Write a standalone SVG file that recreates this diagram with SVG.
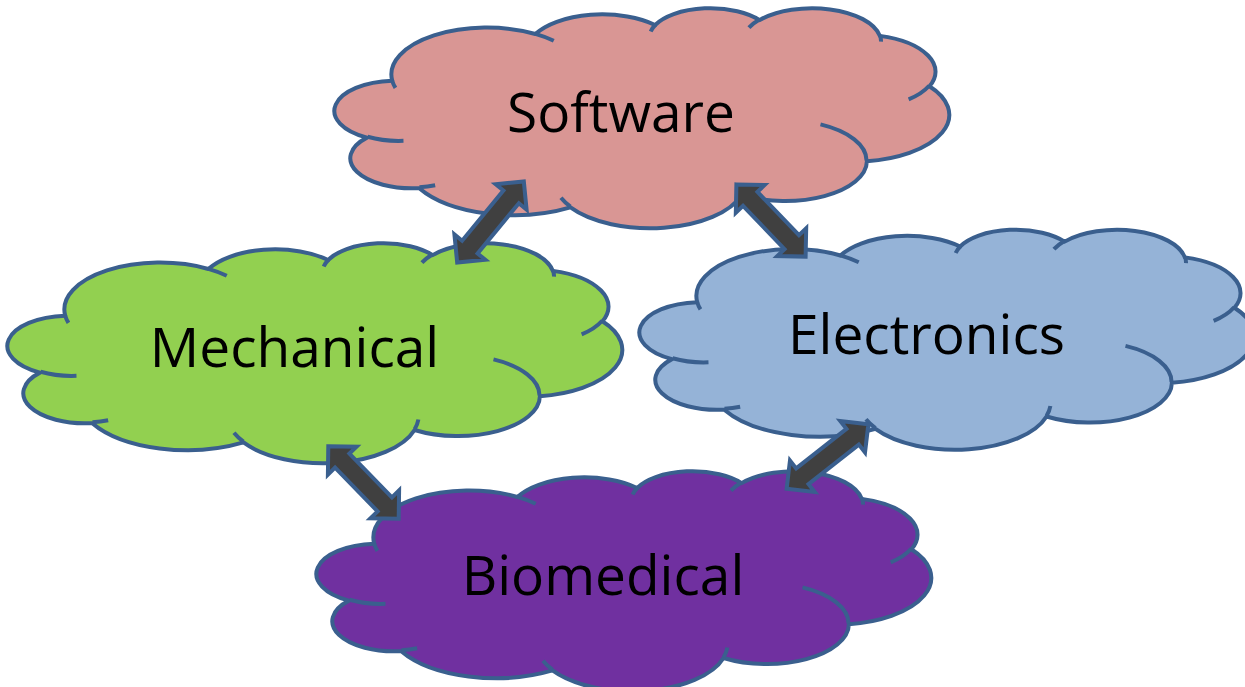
<svg xmlns="http://www.w3.org/2000/svg" xmlns:xlink="http://www.w3.org/1999/xlink" width="1245" height="687" viewBox="0 0 1245 687">
  <style>
    .outline { stroke: #3A5F8E; stroke-width: 4; stroke-linejoin: round; vector-effect: non-scaling-stroke; }
    .hint { fill: none; stroke: #3A5F8E; stroke-width: 4; vector-effect: non-scaling-stroke; }
    .label { font-family: "Open Sans", "Liberation Sans", sans-serif; font-size: 55px; fill: #000000; text-anchor: middle; }
    .arrow { fill: #404040; stroke: #3A5F8E; stroke-width: 4; stroke-linejoin: miter; stroke-miterlimit: 10; }
  </style>
  <defs>
    <path id="cloud-shape" class="outline" vector-effect="non-scaling-stroke" d="M3900,14370 A6753,9190 0 0 1 14005,5202 A5333,7267 0 0 1 22456,3431 A4365,5945 0 0 1 29833,2479 A4857,6595 0 0 1 38318,5575 A5333,7273 0 0 1 41818,15458 A6775,9220 0 0 1 37404,30202 A5785,7867 0 0 1 28556,36812 A6752,9215 0 0 1 16481,39264 A7720,10543 0 0 1 5806,35472 A4360,5918 0 0 1 2114,25551 A4345,5945 0 0 1 3900,14370 Z"/>
    <path id="cloud-hints" class="hint" vector-effect="non-scaling-stroke" d="M4693,26177 A4345,5945 0 0 1 2160,25380 M6928,34899 A4360,5918 0 0 1 5820,35281 M16478,39090 A6752,9215 0 0 1 15810,37349 M28827,34751 A6752,9215 0 0 1 28560,36660 M34129,22954 A5785,7867 0 0 1 37380,30090 M41798,15354 A5333,7273 0 0 1 40350,18030 M38324,5426 A4857,6595 0 0 1 38401,6690 M29078,3952 A4857,6595 0 0 1 29820,2339 M22141,4720 A4365,5945 0 0 1 22500,3331 M14000,5192 A6753,9190 0 0 1 15299,6539 M4127,15789 A6753,9190 0 0 1 3900,14370"/>
  </defs>

  <g id="software">
    <g transform="translate(337,7.5) scale(0.0141667,0.0050926)">
      <use xlink:href="#cloud-shape" href="#cloud-shape" fill="#D99694"/>
      <use xlink:href="#cloud-hints" href="#cloud-hints"/>
    </g>
    <text class="label" x="621" y="132">Software</text>
  </g>

  <g id="mechanical">
    <g transform="translate(10,242.5) scale(0.0141667,0.0050926)">
      <use xlink:href="#cloud-shape" href="#cloud-shape" fill="#92D050"/>
      <use xlink:href="#cloud-hints" href="#cloud-hints"/>
    </g>
    <text class="label" x="294.5" y="367">Mechanical</text>
  </g>

  <g id="electronics">
    <g transform="translate(642,229) scale(0.0141667,0.0050926)">
      <use xlink:href="#cloud-shape" href="#cloud-shape" fill="#95B3D7"/>
      <use xlink:href="#cloud-hints" href="#cloud-hints"/>
    </g>
    <text class="label" x="926.5" y="353.5">Electronics</text>
  </g>

  <g id="biomedical">
    <g transform="translate(319,470.5) scale(0.0141667,0.0050926)">
      <use xlink:href="#cloud-shape" href="#cloud-shape" fill="#7030A0"/>
      <use xlink:href="#cloud-hints" href="#cloud-hints"/>
    </g>
    <text class="label" x="603" y="595">Biomedical</text>
  </g>

  <g id="connectors">
    <path class="arrow" transform="translate(490.5,222) rotate(-50.6)" d="M-52.5,0 L-32.5,-20 L-32.5,-10 L32.5,-10 L32.5,-20 L52.5,0 L32.5,20 L32.5,10 L-32.5,10 L-32.5,20 Z"/>
    <path class="arrow" transform="translate(771,220.5) rotate(46.2)" d="M-50,0 L-30,-20 L-30,-10 L30,-10 L30,-20 L50,0 L30,20 L30,10 L-30,10 L-30,20 Z"/>
    <path class="arrow" transform="translate(363.5,482.5) rotate(45.8)" d="M-50.5,0 L-30.5,-20 L-30.5,-10 L30.5,-10 L30.5,-20 L50.5,0 L30.5,20 L30.5,10 L-30.5,10 L-30.5,20 Z"/>
    <path class="arrow" transform="translate(827.5,456.5) rotate(-38.2)" d="M-52,0 L-32,-20 L-32,-10 L32,-10 L32,-20 L52,0 L32,20 L32,10 L-32,10 L-32,20 Z"/>
  </g>
</svg>
